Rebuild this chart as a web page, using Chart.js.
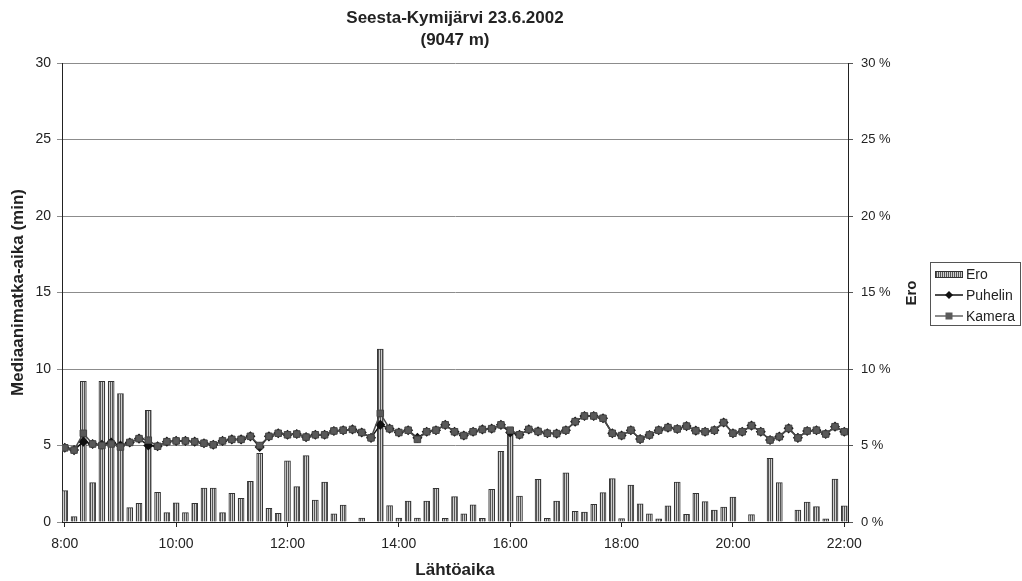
<!DOCTYPE html>
<html>
<head>
<meta charset="utf-8">
<script src="https://cdn.jsdelivr.net/npm/chart.js@4.4.1/dist/chart.umd.min.js"></script>
<style>
    html, body { margin: 0; padding: 0; background: #fff; }
    #wrap { position: relative; width: 1022px; height: 581px; font-family: Arial, "Liberation Sans", sans-serif; color: #222; }
    #c { position: absolute; left: 0; top: 0; }
    #title { position: absolute; left: 0; top: 7px; width: 910px; text-align: center; font-weight: bold; font-size: 17px; line-height: 22px; }
    #eroTitle { position: absolute; left: 910px; top: 293px; transform: translate(-50%, -50%) rotate(-90deg); font-weight: bold; font-size: 15px; }
    #legend { position: absolute; left: 930px; top: 262px; width: 91px; height: 64px; border: 1px solid #555; box-sizing: border-box; font-size: 14px; background: #fff; }
    .item { position: absolute; left: 4px; height: 16px; display: flex; align-items: center; }
    .item svg { margin-right: 3px; }
    .sw { width: 28px; height: 7px; margin-right: 3px; border: 1px solid #333; box-sizing: border-box;
          background: repeating-linear-gradient(90deg, #555 0 1px, #cfcfcf 1px 2px); }
</style>
</head>
<body>
<div id="wrap">
    <canvas id="c" width="1022" height="581"></canvas>
    <div id="title">Seesta-Kymijärvi 23.6.2002<br>(9047 m)</div>
    <div id="eroTitle">Ero</div>
    <div id="legend">
        <div class="item" style="top:3px"><span class="sw"></span>Ero</div>
        <div class="item" style="top:24px"><svg width="28" height="10"><line x1="0" y1="5" x2="28" y2="5" stroke="#111" stroke-width="1.5"/><path d="M14 1 L18 5 L14 9 L10 5 Z" fill="#111"/></svg>Puhelin</div>
        <div class="item" style="top:45px"><svg width="28" height="10"><line x1="0" y1="5" x2="28" y2="5" stroke="#666" stroke-width="1.5"/><rect x="10.5" y="1.5" width="7" height="7" fill="#5a5a5a"/></svg>Kamera</div>
    </div>
</div>
<script>
// ===== Seesta-Kymijärvi 23.6.2002 — travel times =====

// Departure times: every 10 minutes from 8:00 (minutes after midnight)
const START_MIN = 480;
const STEP_MIN = 10;

const TICK_MIN = [480, 600, 720, 840, 960, 1080, 1200, 1320];
const TICK_LABELS = ['8:00', '10:00', '12:00', '14:00', '16:00', '18:00', '20:00', '22:00'];

// Ero (%), right axis
const ERO = [
    2.05, 0.35, 9.2, 2.57, 9.2, 9.2, 8.4, 0.94, 1.22, 7.3,
    1.94, 0.61, 1.26, 0.61, 1.22, 2.22, 2.22, 0.61, 1.87, 1.55,
    2.66, 4.49, 0.89, 0.57, 3.99, 2.31, 4.34, 1.44, 2.61, 0.54,
    1.11, null, 0.26, null, 11.3, 1.07, 0.26, 1.37, 0.26, 1.37,
    2.2, 0.24, 1.66, 0.54, 1.13, 0.24, 2.13, 4.62, 6.0, 1.7,
    null, 2.79, 0.24, 1.37, 3.22, 0.7, 0.65, 1.15, 1.92, 2.83,
    0.22, 2.42, 1.18, 0.54, 0.2, 1.05, 2.61, 0.5, 1.87, 1.33,
    0.78, 0.98, 1.63, null, 0.48, null, 4.16, 2.57, null, 0.78,
    1.31, 1.0, 0.2, 2.81, 1.05
];

// Median travel time (min), left axis
const PUHELIN = [
    4.85, 4.7, 5.25, 5.1, 5.05, 5.2, 5.0, 5.2, 5.45, 5.0,
    4.95, 5.25, 5.3, 5.3, 5.25, 5.15, 5.05, 5.3, 5.4, 5.4,
    5.6, 4.9, 5.6, 5.8, 5.7, 5.75, 5.55, 5.7, 5.7, 5.95,
    6.0, 6.05, 5.85, 5.5, 6.35, 6.1, 5.85, 6.0, 5.5, 5.9,
    6.0, 6.35, 5.9, 5.65, 5.9, 6.05, 6.1, 6.35, 5.85, 5.7,
    6.05, 5.92, 5.8, 5.78, 6.0, 6.56, 6.93, 6.93, 6.78, 5.8,
    5.65, 6.0, 5.42, 5.69, 6.0, 6.17, 6.08, 6.27, 5.97, 5.9,
    6.0, 6.5, 5.8, 5.9, 6.3, 5.9, 5.36, 5.58, 6.12, 5.5,
    5.95, 6.0, 5.75, 6.23, 5.9
];

const KAMERA = [
    4.85, 4.7, 5.8, 5.1, 5.0, 5.1, 4.9, 5.2, 5.45, 5.35,
    4.95, 5.25, 5.3, 5.3, 5.25, 5.15, 5.05, 5.3, 5.4, 5.4,
    5.6, 5.0, 5.6, 5.8, 5.7, 5.75, 5.55, 5.7, 5.7, 5.95,
    6.0, 6.05, 5.85, 5.5, 7.1, 6.1, 5.85, 6.0, 5.4, 5.9,
    6.0, 6.35, 5.9, 5.65, 5.9, 6.05, 6.1, 6.35, 6.0, 5.7,
    6.05, 5.92, 5.8, 5.78, 6.0, 6.56, 6.93, 6.93, 6.78, 5.8,
    5.65, 6.0, 5.42, 5.69, 6.0, 6.17, 6.08, 6.27, 5.97, 5.9,
    6.0, 6.5, 5.8, 5.9, 6.3, 5.9, 5.36, 5.58, 6.12, 5.5,
    5.95, 6.0, 5.75, 6.23, 5.9
];

const pts = arr => arr.map((v, i) => ({ x: START_MIN + i * STEP_MIN, y: v }));

function hatch() {
    const c = document.createElement('canvas');
    c.width = 2; c.height = 2;
    const g = c.getContext('2d');
    g.fillStyle = '#cfcfcf'; g.fillRect(0, 0, 2, 2);
    g.fillStyle = '#555'; g.fillRect(0, 0, 1, 2);
    return g.createPattern(c, 'repeat');
}

Chart.defaults.font.family = 'Arial, "Liberation Sans", sans-serif';
Chart.defaults.color = '#222';

const ctx = document.getElementById('c').getContext('2d');
new Chart(ctx, {
    type: 'bar',
    data: {
        datasets: [
            { type: 'line', label: 'Kamera', data: pts(KAMERA), yAxisID: 'y',
              borderColor: '#4a4a4a', borderWidth: 1.5, pointStyle: 'rect', pointRadius: 4.6,
              pointBackgroundColor: '#595959', pointBorderColor: '#444', pointBorderWidth: 1, order: 0 },
            { type: 'line', label: 'Puhelin', data: pts(PUHELIN), yAxisID: 'y',
              borderColor: '#111', borderWidth: 1.5, pointStyle: 'rectRot', pointRadius: 4,
              pointBackgroundColor: '#111', pointBorderColor: '#111', order: 1 },
            { type: 'bar', label: 'Ero', data: pts(ERO), yAxisID: 'y1',
              backgroundColor: hatch(), borderColor: '#333', borderWidth: 1, barThickness: 6, order: 2 }
        ]
    },
    options: {
        responsive: false, animation: false,
        layout: { padding: { top: 63, left: 0, right: 0, bottom: 0 } },
        plugins: { legend: { display: false }, tooltip: { enabled: false } },
        scales: {
            x: {
                type: 'linear', min: 477, max: 1324, offset: false,
                afterBuildTicks: s => { s.ticks = TICK_MIN.map(v => ({ value: v })); },
                afterFit: s => { s.height = 59; },
                ticks: { autoSkip: false, maxRotation: 0, padding: 9, font: { size: 14 },
                         callback: (v, i) => TICK_LABELS[i] },
                grid: { drawOnChartArea: false, tickLength: 5, color: '#222', offset: false },
                border: { color: '#222', width: 1 },
                title: { display: true, text: 'Lähtöaika', font: { size: 17, weight: 'bold' }, padding: { top: 0, bottom: 0 } }
            },
            y: {
                position: 'left', min: 0, max: 30,
                afterFit: s => { s.width = 62; },
                ticks: { stepSize: 5, padding: 6, font: { size: 14 } },
                grid: { color: '#8c8c8c', tickLength: 5 },
                border: { color: '#222', width: 1 },
                title: { display: true, text: 'Mediaanimatka-aika (min)', font: { size: 17, weight: 'bold' }, padding: { top: 8, bottom: 0 } }
            },
            y1: {
                position: 'right', min: 0, max: 30,
                afterFit: s => { s.width = 174; },
                ticks: { stepSize: 5, padding: 8, font: { size: 13 }, callback: v => v + ' %' },
                grid: { drawOnChartArea: false, tickLength: 5, color: '#555' },
                border: { color: '#222', width: 1 }
            }
        }
    }
});
</script>
</body>
</html>
